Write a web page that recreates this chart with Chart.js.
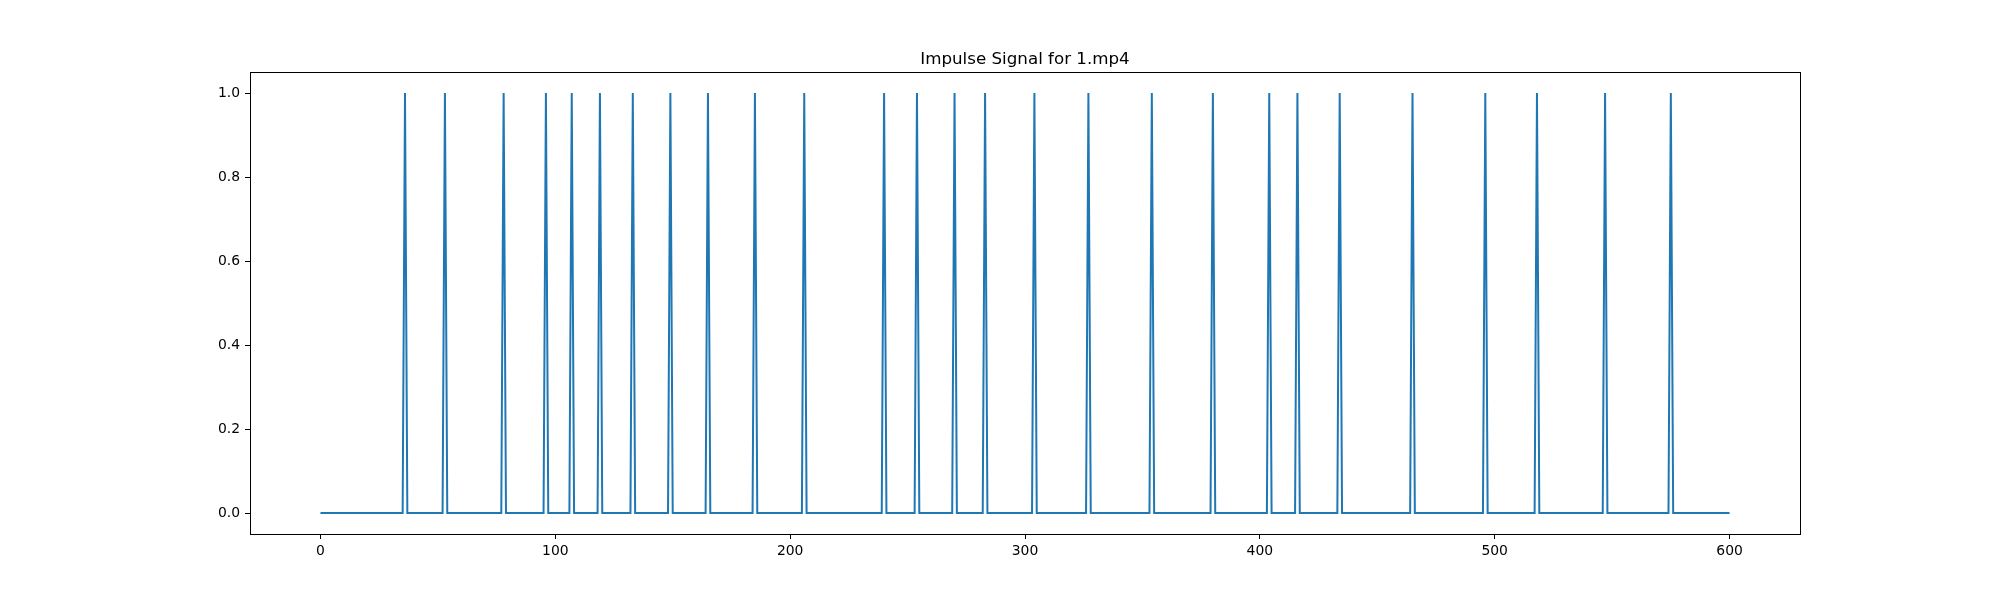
<!DOCTYPE html>
<html>
<head>
<meta charset="utf-8">
<script src="https://cdn.jsdelivr.net/npm/chart.js@4/dist/chart.umd.min.js"></script>
<style>
    body { margin: 0; background: #fff; }
    canvas { display: block; }
</style>
</head>
<body>
<canvas id="impulse-chart" width="2000" height="600"></canvas>
<script>
const chartTitle = 'Impulse Signal for 1.mp4';
const lastFrame = 600;
const impulseFrames = [36, 53, 78, 96, 107, 119, 133, 149, 165, 185, 206, 240, 254, 270, 283,
    304, 327, 354, 380, 404, 416, 434, 465, 496, 518, 547, 575];
const xTicks = [0, 100, 200, 300, 400, 500, 600];
const yTicks = [0.0, 0.2, 0.4, 0.6, 0.8, 1.0];

document.addEventListener('DOMContentLoaded', function () {
    const ctx = document.getElementById('impulse-chart').getContext('2d');

    // one sample per frame: 1 where an impulse was detected, 0 elsewhere
    const signal = [];
    for (let f = 0; f <= lastFrame; f++) {
        signal.push({ x: f, y: impulseFrames.includes(f) ? 1 : 0 });
    }

    const frameAndTitle = {
        id: 'frameAndTitle',
        afterDraw(chart) {
            const a = chart.chartArea;
            const c = chart.ctx;
            c.save();
            c.strokeStyle = '#000';
            c.lineWidth = 1;
            c.strokeRect(Math.round(a.left) + 0.5, Math.round(a.top) + 0.5,
                Math.round(a.right - a.left), Math.round(a.bottom - a.top));
            c.fillStyle = '#000';
            c.font = '16.7px "DejaVu Sans"';
            c.textAlign = 'center';
            c.textBaseline = 'alphabetic';
            c.fillText(chartTitle, (a.left + a.right) / 2, a.top - 8);
            c.restore();
        }
    };

    const tickFont = { family: 'DejaVu Sans', size: 13.9 };

    new Chart(ctx, {
        type: 'line',
        data: {
            datasets: [{
                data: signal,
                borderColor: '#1f77b4',
                borderWidth: 2,
                pointRadius: 0,
                tension: 0,
                fill: false
            }]
        },
        options: {
            responsive: false,
            animation: false,
            layout: { padding: { left: 0, top: 72, right: 200, bottom: 0 } },
            scales: {
                x: {
                    type: 'linear',
                    min: -30,
                    max: 630,
                    afterBuildTicks: function (scale) {
                        scale.ticks = xTicks.map(v => ({ value: v }));
                    },
                    afterFit: function (scale) { scale.height = 66; },
                    grid: {
                        drawOnChartArea: false,
                        drawTicks: true,
                        tickLength: 5,
                        tickWidth: 1,
                        tickColor: '#000'
                    },
                    border: { display: false },
                    ticks: {
                        color: '#000',
                        font: tickFont,
                        padding: 4,
                        maxRotation: 0,
                        callback: function (value) { return String(value); }
                    }
                },
                y: {
                    min: -0.05,
                    max: 1.05,
                    afterBuildTicks: function (scale) {
                        scale.ticks = yTicks.map(v => ({ value: v }));
                    },
                    afterFit: function (scale) { scale.width = 250; },
                    grid: {
                        drawOnChartArea: false,
                        drawTicks: true,
                        tickLength: 5,
                        tickWidth: 1,
                        tickColor: '#000'
                    },
                    border: { display: false },
                    ticks: {
                        color: '#000',
                        font: tickFont,
                        padding: 5,
                        callback: function (value) { return value.toFixed(1); }
                    }
                }
            },
            plugins: {
                legend: { display: false },
                title: { display: false },
                tooltip: { enabled: false }
            }
        },
        plugins: [frameAndTitle]
    });
});
</script>
</body>
</html>
